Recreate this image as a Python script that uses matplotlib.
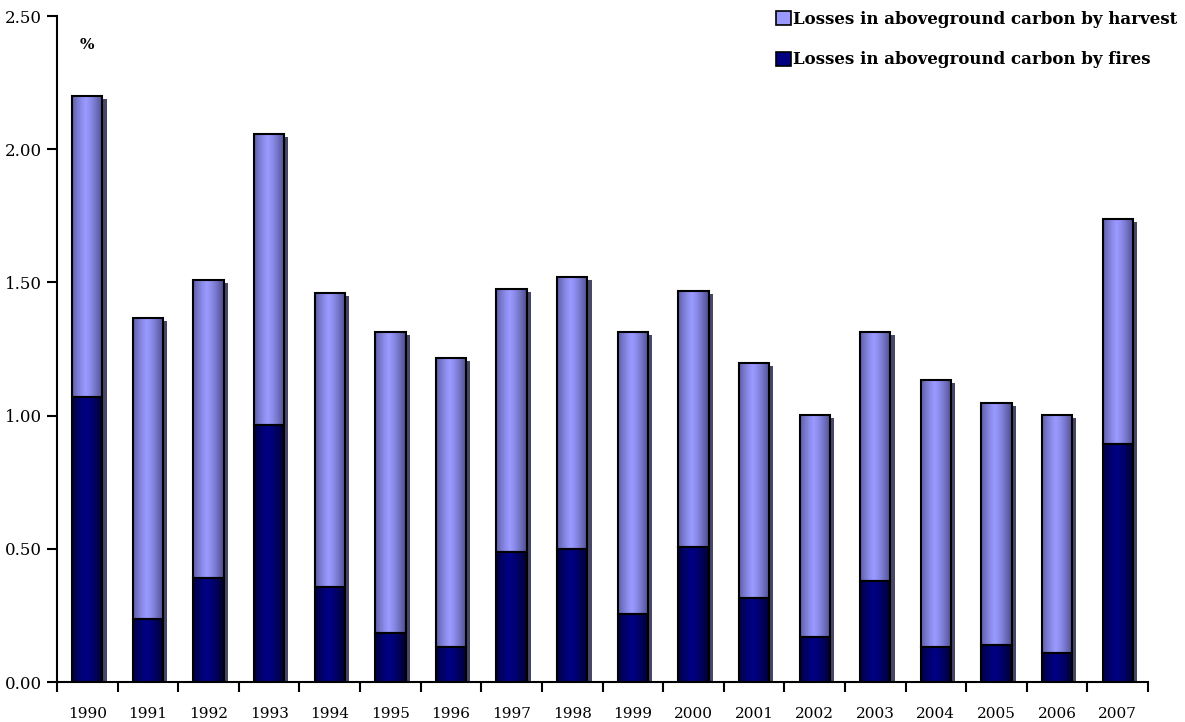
import matplotlib.pyplot as plt
import matplotlib.patheffects as pe
from matplotlib.patches import Patch
import numpy as np

years = ['1990', '1991', '1992', '1993', '1994', '1995', '1996', '1997', '1998',
         '1999', '2000', '2001', '2002', '2003', '2004', '2005', '2006', '2007']
fires = [1.07, 0.236, 0.39, 0.965, 0.357, 0.184, 0.131, 0.488, 0.50,
         0.255, 0.507, 0.315, 0.169, 0.379, 0.131, 0.139, 0.109, 0.893]
harvest = [1.13, 1.13, 1.119, 1.092, 1.103, 1.13, 1.085, 0.987, 1.02,
           1.059, 0.961, 0.882, 0.833, 0.935, 1.003, 0.908, 0.893, 0.845]

plt.rcParams['font.family'] = ['DejaVu Serif']

fig = plt.figure(figsize=(11.85, 7.22), dpi=100)
ax = fig.add_axes([0.0481, 0.0554, 0.9207, 0.9224])

x = np.arange(len(years))
w = 0.5

# gradient: dark at edges, light in middle
def grad_img(c_mid, c_edge):
    t = np.linspace(0, 1, 64)
    k = np.clip(np.abs(t - 0.45) / 0.55, 0, 1) ** 1.3
    c_mid = np.array(c_mid)
    c_edge = np.array(c_edge)
    img = c_mid[None, :] * (1 - k[:, None]) + c_edge[None, :] * k[:, None]
    return img[None, :, :]

fire_img = grad_img((0, 0, 0.52), (0, 0, 0.18))
harv_img = grad_img((0.6, 0.6, 1.0), (0.3, 0.3, 0.55))

shadow = [pe.SimplePatchShadow(offset=(3, -2), shadow_rgbFace='#333355', alpha=0.9), pe.Normal()]

b1 = ax.bar(x, fires, w, facecolor='none', edgecolor='black', linewidth=1.5, zorder=3)
b2 = ax.bar(x, harvest, w, bottom=fires, facecolor='none', edgecolor='black', linewidth=1.5, zorder=3)

for bars, img in [(b1, fire_img), (b2, harv_img)]:
    for p in bars:
        x0, y0 = p.get_x(), p.get_y()
        x1, y1 = x0 + p.get_width(), y0 + p.get_height()
        # shadow behind
        ax.bar(x0 + p.get_width() / 2, p.get_height(), p.get_width(), bottom=y0,
               color='#222244', zorder=1, path_effects=shadow, linewidth=0)
        ax.imshow(img, extent=(x0, x1, y0, y1), aspect='auto', zorder=2, interpolation='bilinear')

ax.set_xlim(-0.5, len(years) - 0.5)
ax.set_ylim(0, 2.5)
ax.set_aspect('auto')

ax.set_yticks(np.arange(0, 2.51, 0.5))
ax.set_yticklabels(['%.2f' % v for v in np.arange(0, 2.51, 0.5)], fontsize=12)
ax.set_xticks(x)
ax.set_xticklabels(years, fontsize=11)
ax.tick_params(axis='x', which='major', length=0, pad=18)
ax.set_xticks(np.arange(-0.5, len(years), 1), minor=True)
ax.tick_params(axis='x', which='minor', length=7, width=1.5, direction='out')
ax.tick_params(axis='y', length=7, width=1.5, direction='out', pad=4)

for s in ['top', 'right']:
    ax.spines[s].set_visible(False)
for s in ['left', 'bottom']:
    ax.spines[s].set_linewidth(1.5)

ax.text(0, 2.39, '%', fontsize=11, fontweight='bold', ha='center', va='center')

handles = [Patch(facecolor='#9999ff', edgecolor='black', linewidth=1.2),
           Patch(facecolor='#000080', edgecolor='black', linewidth=1.2)]
ax.legend(handles, ['Losses in aboveground carbon by harvest', 'Losses in aboveground carbon by fires'],
          loc='upper left', bbox_to_anchor=(0.645, 1.03), frameon=False, handlelength=0.9,
          handleheight=0.9, handletextpad=0.15, labelspacing=1.4,
          prop={'size': 12, 'weight': 'bold'})

fig.savefig('out.png', dpi=100)
